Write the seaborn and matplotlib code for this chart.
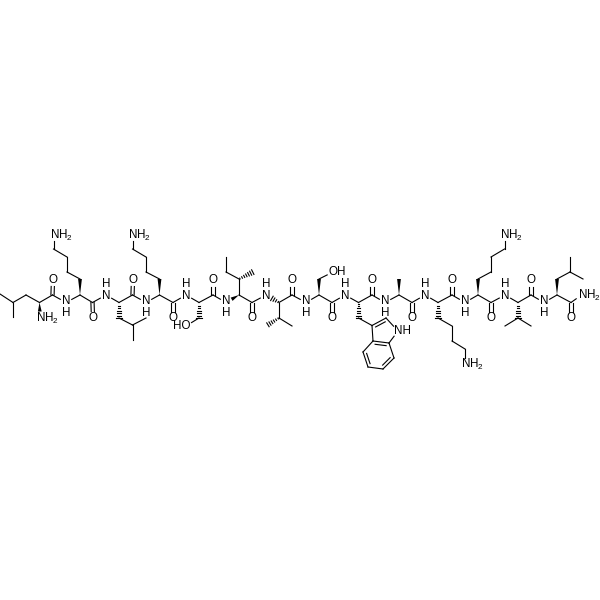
import matplotlib
matplotlib.use('Agg')
import matplotlib.pyplot as plt
import numpy as np
import pandas as pd
import seaborn as sns

plt.rcParams['mathtext.default'] = 'regular'
plt.rcParams['font.family'] = ['Liberation Sans', 'DejaVu Sans']

# atoms of the peptide, positions
atom_names = ['a', 'b', 'c', 'd', 'e', 'n1', 'c1', 'o1',
              'n2', 'ca2', 'k2a', 'k2b', 'k2c', 'k2d', 'k2n', 'c2', 'o2',
              'n3', 'ca3', 'l3a', 'l3b', 'l3c', 'l3d', 'c3', 'o3',
              'n4', 'ca4', 'k4a', 'k4b', 'k4c', 'k4d', 'k4n', 'c4', 'o4',
              'n5', 'ca5', 's5a', 's5o', 'c5', 'o5',
              'n6', 'ca6', 'i6a', 'i6b', 'i6c', 'i6d', 'c6', 'o6',
              'n7', 'ca7', 'v7a', 'v7b', 'v7c', 'c7', 'o7',
              'n8', 'ca8', 's8a', 's8o', 'c8', 'o8',
              'n9', 'ca9', 'w1', 'w2', 'w3', 'w4', 'w5', 'w6', 'w7', 'w8', 'w9', 'w10', 'c9', 'o9',
              'n10', 'ca10', 'a10', 'c10', 'o10',
              'n11', 'ca11', 'k11a', 'k11b', 'k11c', 'k11d', 'k11n', 'c11', 'o11',
              'n12', 'ca12', 'k12a', 'k12b', 'k12c', 'k12d', 'k12n', 'c12', 'o12',
              'n13', 'ca13', 'v13a', 'v13b', 'v13c', 'c13', 'o13',
              'n14', 'ca14', 'l14a', 'l14b', 'l14c', 'l14d', 'c14', 'o14', 'n15']
atom_x = [0, 13, 13, 26, 39.5, 40, 52.5, 53,
          66, 80, 80, 67, 67, 53.5, 53.5, 92.5, 93,
          106, 119, 119, 132.5, 146, 132.5, 132.5, 133,
          146, 159.5, 159.5, 146, 146, 132.5, 132.5, 173, 173,
          186, 199, 199, 186, 213, 213,
          226, 239, 239, 253, 226, 226, 252, 252,
          266, 279, 279, 266, 292, 292, 292,
          306, 319, 319, 333, 332, 332,
          345, 358.5, 358.5, 372, 386, 398, 389, 373, 363, 368, 383, 394, 372, 372,
          385, 399, 399, 412, 412,
          425, 438, 438, 452, 452, 465, 465, 452, 452,
          465, 478, 478, 491, 491, 504.5, 504.5, 491, 491,
          505, 518, 518, 505, 531, 531, 531,
          544, 557, 557, 570, 570, 583, 571, 571, 581.5]
atom_y = [294, 317, 302.5, 295, 302.5, 318, 295, 280,
          302.5, 295, 279, 272, 257, 249, 234.5, 302.5, 318,
          295, 302.5, 318, 325, 318, 340, 295, 280,
          302.5, 295, 279, 272, 257, 249, 234.5, 302.5, 318,
          295, 302.5, 318, 326, 295, 280,
          302.5, 295, 279, 272, 272, 257, 302.5, 318,
          295, 302.5, 318, 326, 326, 295, 280,
          302.5, 295, 279, 272, 302.5, 318,
          295, 302.5, 318, 325.5, 318, 331, 343, 341, 352, 367, 369, 358, 295, 280,
          302.5, 295, 279, 302.5, 318,
          295, 302.5, 318, 326, 341, 349, 364, 295, 280,
          302.5, 295, 279, 272, 257, 249, 234.5, 302.5, 318,
          295, 302.5, 318, 326, 326, 295, 280,
          302.5, 295, 279, 272, 257, 279, 302.5, 318, 295]

label_atoms = ['n1', 'o1', 'n2', 'k2n', 'o2', 'n3', 'o3', 'n4', 'k4n', 'o4', 'n5', 's5o', 'o5',
               'n6', 'o6', 'n7', 'o7', 'n8', 's8o', 'o8', 'n9', 'w4', 'o9', 'n10', 'o10',
               'n11', 'k11n', 'o11', 'n12', 'k12n', 'o12', 'n13', 'o13', 'n14', 'o14', 'n15']
label_kinds = ['NH2', 'O', 'NHd', 'NH2', 'O', 'NHu', 'O', 'NHd', 'NH2', 'O', 'NHu', 'HO', 'O',
               'NHd', 'O', 'NHu', 'O', 'NHd', 'OH', 'O', 'NHu', 'NHr', 'O', 'NHd', 'O',
               'NHu', 'NH2', 'O', 'NHd', 'NH2', 'O', 'NHu', 'O', 'NHd', 'O', 'NH2']

plain_bonds = ['a-c', 'b-c', 'c-d', 'd-e', 'e-c1', 'c1-n2', 'n2-ca2', 'ca2-c2',
               'k2a-k2b', 'k2b-k2c', 'k2c-k2d', 'k2d-k2n', 'c2-n3', 'n3-ca3', 'ca3-c3',
               'l3a-l3b', 'l3b-l3c', 'l3b-l3d', 'c3-n4', 'n4-ca4', 'ca4-c4',
               'k4a-k4b', 'k4b-k4c', 'k4c-k4d', 'k4d-k4n', 'c4-n5', 'n5-ca5', 'ca5-c5',
               's5a-s5o', 'c5-n6', 'ca6-c6', 'ca6-i6a', 'i6a-i6c', 'i6c-i6d',
               'c6-n7', 'ca7-c7', 'ca7-v7a', 'v7a-v7c', 'c7-n8', 'n8-ca8', 'ca8-c8',
               's8a-s8o', 'c8-n9', 'n9-ca9', 'ca9-c9', 'w1-w2', 'w3-w4', 'w4-w5', 'w2-w6',
               'w6-w7', 'w8-w9', 'w5-w10', 'c9-n10', 'n10-ca10', 'ca10-c10',
               'c10-n11', 'n11-ca11', 'ca11-c11', 'k11a-k11b', 'k11b-k11c', 'k11c-k11d', 'k11d-k11n',
               'c11-n12', 'n12-ca12', 'ca12-c12', 'k12a-k12b', 'k12b-k12c', 'k12c-k12d', 'k12d-k12n',
               'c12-n13', 'n13-ca13', 'ca13-c13', 'v13a-v13b', 'v13a-v13c', 'c13-n14', 'n14-ca14', 'ca14-c14',
               'l14a-l14b', 'l14b-l14c', 'l14b-l14d', 'c14-n15']
carbonyl_bonds = ['c1-o1', 'c2-o2', 'c3-o3', 'c4-o4', 'c5-o5', 'c6-o6', 'c7-o7', 'c8-o8',
                  'c9-o9', 'c10-o10', 'c11-o11', 'c12-o12', 'c13-o13', 'c14-o14']
ring_double_bonds = ['w2-w3', 'w5-w6', 'w7-w8', 'w9-w10']
ring_centers = ['w4', 'w8', 'w10', 'w6']
wedge_bonds = ['e-n1', 'ca2-k2a', 'ca4-k4a', 'ca6-n6', 'ca8-s8a', 'ca10-a10', 'ca12-k12a', 'ca14-l14a']
hash_bonds = ['ca3-l3a', 'ca5-s5a', 'i6a-i6b', 'ca7-n7', 'v7a-v7b', 'ca9-w1', 'ca11-k11a', 'ca13-v13a']

pos = {n: np.array([x, y], dtype=float) for n, x, y in zip(atom_names, atom_x, atom_y)}
labelled = set(label_atoms)
TRIM = 6.5


def ends(bond):
    # bond end points, pulled back from atoms that carry a text label
    a, b = bond.split('-')
    p, q = pos[a].copy(), pos[b].copy()
    u = (q - p) / np.linalg.norm(q - p)
    if a in labelled:
        p = p + u * TRIM
    if b in labelled:
        q = q - u * TRIM
    return p, q, u


segs = []


def add_seg(p, q):
    k = len(segs) // 2
    segs.append((k, p[0], p[1]))
    segs.append((k, q[0], q[1]))


for bond in plain_bonds:
    p, q, u = ends(bond)
    add_seg(p, q)

for bond in carbonyl_bonds:
    p, q, u = ends(bond)
    n = np.array([-u[1], u[0]]) * 1.6
    add_seg(p + n, q + n)
    add_seg(p - n, q - n)

# ring double bonds: outer line plus a shorter one on the ring side
for bond, center in zip(ring_double_bonds, ring_centers):
    p, q, u = ends(bond)
    add_seg(p, q)
    n = np.array([-u[1], u[0]])
    mid = (p + q) / 2
    if np.dot(pos[center] - mid, n) < 0:
        n = -n
    add_seg(p + n * 3 + u * 2.5, q + n * 3 - u * 2.5)

for bond in hash_bonds:
    p, q, u = ends(bond)
    n = np.array([-u[1], u[0]])
    length = np.linalg.norm(q - p)
    for d in np.arange(1.0, length, 2.4):
        w = 0.3 + 2.3 * d / length
        add_seg(p + u * d + n * w, p + u * d - n * w)

seg_df = pd.DataFrame(segs, columns=['seg', 'x', 'y'])

fig, ax = plt.subplots(figsize=(6, 6), dpi=100)
fig.subplots_adjust(0, 0, 1, 1)
sns.lineplot(data=seg_df, x='x', y='y', units='seg', estimator=None, sort=False,
             color='black', linewidth=0.8, legend=False, ax=ax)

for bond in wedge_bonds:
    p, q, u = ends(bond)
    n = np.array([-u[1], u[0]]) * 1.9
    tri = np.array([p, q + n, q - n])
    ax.fill(tri[:, 0], tri[:, 1], color='black', lw=0)

FONT = dict(fontsize=8.4, color='black', va='center', ha='center', linespacing=1.0)


# one text per group, the heavy atom's letter sits on the atom position
def draw_label(name, kind):
    x, y = pos[name]
    if kind == 'O':
        ax.text(x, y, 'O', **FONT)
    elif kind == 'NH2':
        ax.text(x - 4, y + 4, 'NH$_2$', **{**FONT, 'ha': 'left', 'va': 'baseline'})
    elif kind == 'NHd':
        ax.text(x, y + 5, 'N\nH', **FONT)
    elif kind == 'NHu':
        ax.text(x, y - 5, 'H\nN', **FONT)
    elif kind == 'NHr':
        ax.text(x - 4, y, 'NH', **{**FONT, 'ha': 'left'})
    elif kind == 'HO':
        ax.text(x + 4.5, y, 'HO', **{**FONT, 'ha': 'right'})
    elif kind == 'OH':
        ax.text(x - 4.5, y, 'OH', **{**FONT, 'ha': 'left'})


for name, kind in zip(label_atoms, label_kinds):
    draw_label(name, kind)

ax.set_xlim(0, 600)
ax.set_ylim(600, 0)
ax.axis('off')
fig.savefig('out.png', dpi=100, facecolor='white')
